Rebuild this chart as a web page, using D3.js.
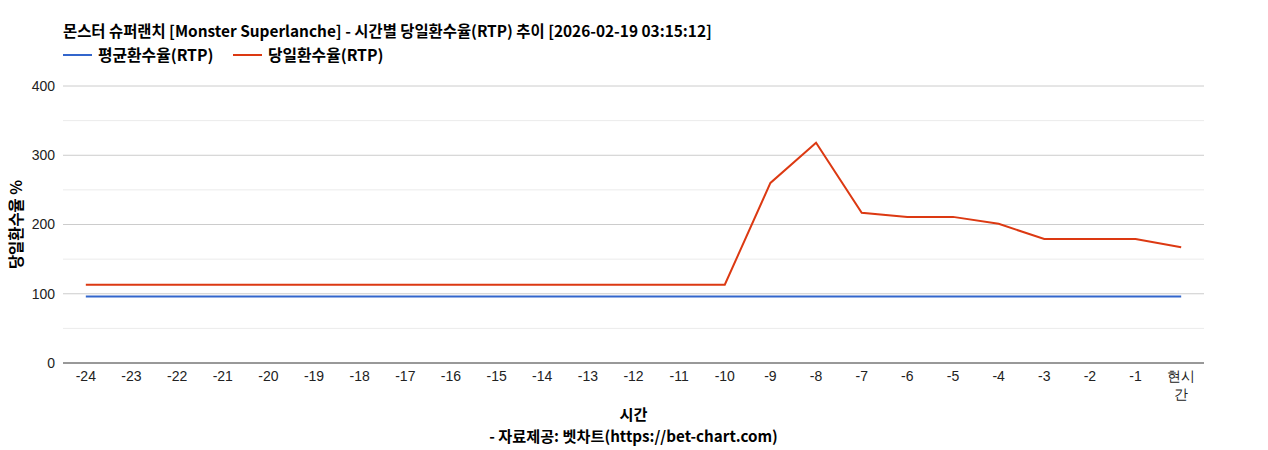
<!DOCTYPE html>
<html>
<head>
<meta charset="utf-8">
<script src="https://cdn.jsdelivr.net/npm/d3@7"></script>
<style>
  body { margin: 0; background: #fff; }
  svg { display: block; }
  .tick text { font-family: Arial, "Liberation Sans", sans-serif; font-size: 14px; fill: #222; }
</style>
</head>
<body>
<svg id="chart"></svg>
<script>
const hours = ["-24","-23","-22","-21","-20","-19","-18","-17","-16","-15","-14","-13","-12","-11","-10","-9","-8","-7","-6","-5","-4","-3","-2","-1","현시간"]
const avgRtp = [96,96,96,96,96,96,96,96,96,96,96,96,96,96,96,96,96,96,96,96,96,96,96,96,96]
const dayRtp = [113,113,113,113,113,113,113,113,113,113,113,113,113,113,113,260,318,217,211,211,201,179,179,179,167]
const yTicks = [0,100,200,300,400]
const yMinor = [50,150,250,350]

const w = 1268
const h = 450
const plotLeft = 63
const plotRight = 1204
const plotTop = 86
const plotBottom = 363
const cjk = "'Noto Sans CJK KR', 'Noto Sans', sans-serif"

const svg = d3.select("#chart")
    .attr("width", w)
    .attr("height", h)

const xScale = d3.scaleBand()
    .domain(hours)
    .range([plotLeft, plotRight])

const yScale = d3.scaleLinear()
    .domain([0, 400])
    .range([plotBottom, plotTop])

//gridlines
svg.append("g").selectAll("line")
    .data(yMinor)
    .enter()
    .append("line")
    .attr("x1", plotLeft).attr("x2", plotRight)
    .attr("y1", d => yScale(d)).attr("y2", d => yScale(d))
    .attr("stroke", "#ebebeb")

svg.append("g").selectAll("line")
    .data(yTicks.slice(1))
    .enter()
    .append("line")
    .attr("x1", plotLeft).attr("x2", plotRight)
    .attr("y1", d => yScale(d)).attr("y2", d => yScale(d))
    .attr("stroke", "#cccccc")

//axes
const leftAxis = d3.axisLeft(yScale).tickValues(yTicks).tickSize(0).tickPadding(8)
svg.append("g")
    .attr("transform", `translate(${plotLeft}, 0)`)
    .call(leftAxis)
    .call(g => g.select(".domain").remove())

const bottomAxis = d3.axisBottom(xScale).tickSize(0).tickPadding(8)
const xg = svg.append("g")
    .attr("transform", `translate(0, ${plotBottom})`)
    .call(bottomAxis)
xg.select(".domain").remove()
xg.selectAll(".tick text").each(function(d){
    if (d.length > 2 && d[0] !== "-") {
        const t = d3.select(this)
        t.text(null)
        t.append("tspan").attr("x", 0).text(d.slice(0, 2))
        t.append("tspan").attr("x", 0).attr("dy", "1.3em").text(d.slice(2))
    }
})

svg.append("line")
    .attr("x1", plotLeft).attr("x2", plotRight)
    .attr("y1", yScale(0)).attr("y2", yScale(0))
    .attr("stroke", "#333")

//lines
const line = d3.line()
    .x((d, i) => xScale(hours[i]) + xScale.bandwidth() / 2)
    .y(d => yScale(d))

svg.append("path")
    .datum(avgRtp)
    .attr("d", line)
    .attr("fill", "none")
    .attr("stroke", "#3366cc")
    .attr("stroke-width", 2)

svg.append("path")
    .datum(dayRtp)
    .attr("d", line)
    .attr("fill", "none")
    .attr("stroke", "#dc3912")
    .attr("stroke-width", 2)

//title
svg.append("text")
    .attr("x", plotLeft)
    .attr("y", 37)
    .attr("font-family", cjk)
    .attr("font-size", 15.4)
    .attr("font-weight", "bold")
    .attr("fill", "#000")
    .text("몬스터 슈퍼랜치 [Monster Superlanche] - 시간별 당일환수율(RTP) 추이 [2026-02-19 03:15:12]")

//legend
const legend = [
    { name: "평균환수율(RTP)", color: "#3366cc", x: plotLeft },
    { name: "당일환수율(RTP)", color: "#dc3912", x: 233 }
]
const lg = svg.append("g").selectAll("g")
    .data(legend)
    .enter()
    .append("g")
    .attr("transform", d => `translate(${d.x}, 55)`)
lg.append("line")
    .attr("x1", 0).attr("x2", 29)
    .attr("stroke", d => d.color)
    .attr("stroke-width", 2)
lg.append("text")
    .attr("x", 35)
    .attr("y", 5.5)
    .attr("font-family", cjk)
    .attr("font-size", 15.8)
    .attr("font-weight", "bold")
    .text(d => d.name)

//axis titles
svg.append("text")
    .attr("transform", `translate(22, ${(plotTop + plotBottom) / 2}) rotate(-90)`)
    .attr("text-anchor", "middle")
    .attr("font-family", cjk)
    .attr("font-size", 15.4)
    .attr("font-weight", "bold")
    .text("당일환수율 %")

svg.append("text")
    .attr("x", (plotLeft + plotRight) / 2)
    .attr("y", 420)
    .attr("text-anchor", "middle")
    .attr("font-family", cjk)
    .attr("font-size", 15.2)
    .attr("font-weight", "bold")
    .text("시간")

svg.append("text")
    .attr("x", (plotLeft + plotRight) / 2)
    .attr("y", 442)
    .attr("text-anchor", "middle")
    .attr("font-family", cjk)
    .attr("font-size", 15.2)
    .attr("font-weight", "bold")
    .text("- 자료제공: 벳차트(https://bet-chart.com)")
</script>
</body>
</html>
